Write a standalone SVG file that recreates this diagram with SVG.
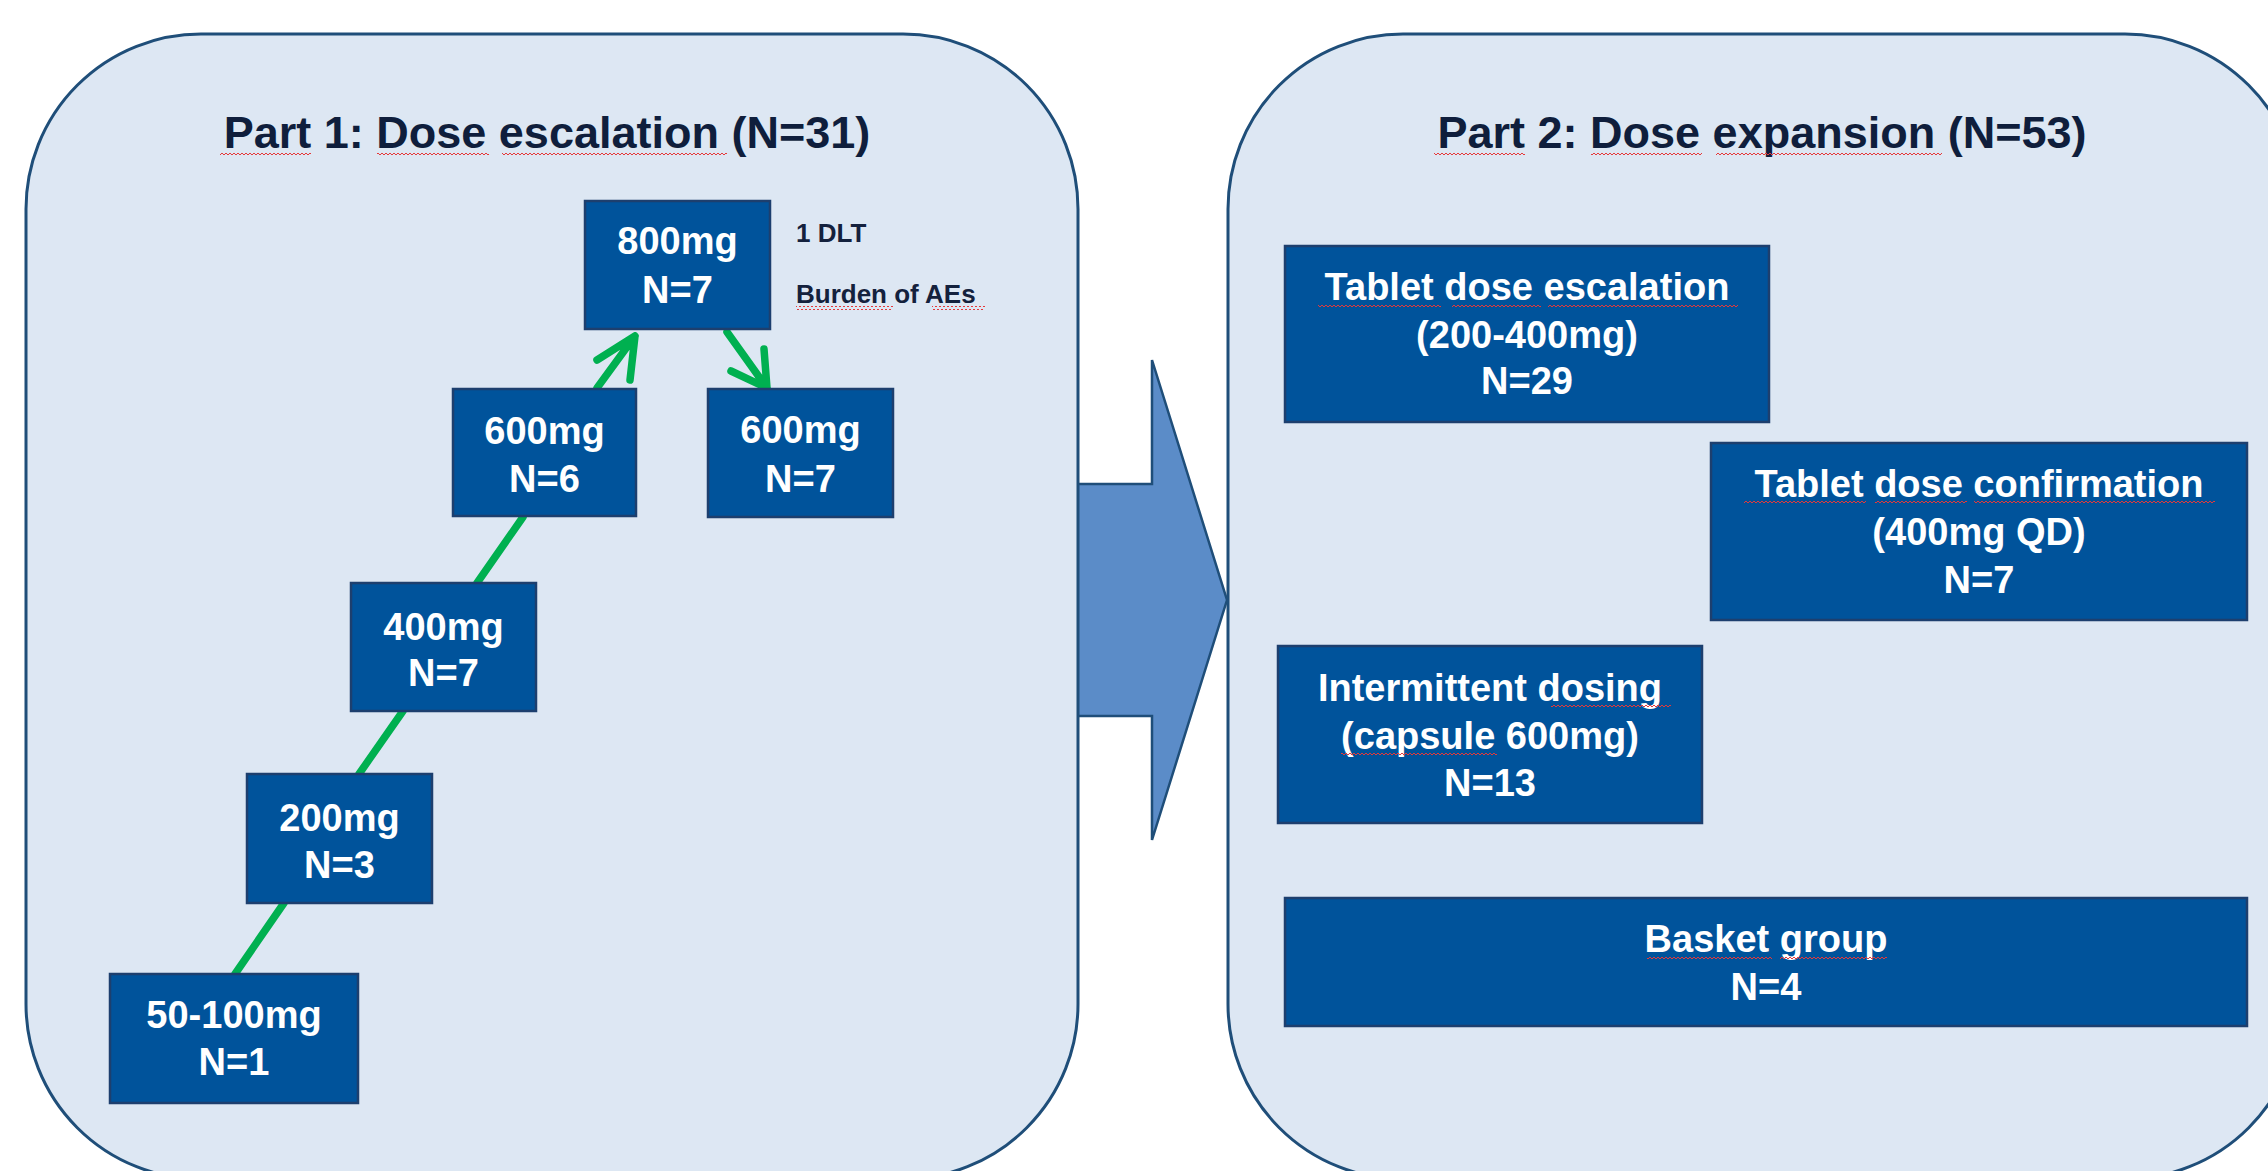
<svg xmlns="http://www.w3.org/2000/svg" width="2268" height="1171" viewBox="0 0 2268 1171">
<defs>
<style>
.panel{fill:#dde7f3;stroke:#1f4e79;stroke-width:3}
.box{fill:#00539b;stroke:#1d3f6e;stroke-width:2.5}
.bl{font-family:"Liberation Sans",Arial,sans-serif;font-weight:bold;font-size:38px;fill:#ffffff;text-anchor:middle}
.title{font-family:"Liberation Sans",Arial,sans-serif;font-weight:bold;font-size:45px;fill:#0f1e3c;text-anchor:middle}
.note{font-family:"Liberation Sans",Arial,sans-serif;font-weight:bold;font-size:26px;fill:#14213d}
.green{fill:none;stroke:#00b050;stroke-width:7.5;stroke-linecap:round;stroke-linejoin:round}
.sq{fill:url(#squig)}
</style>
<pattern id="squig" width="4" height="4" patternUnits="userSpaceOnUse">
<path d="M0 3 L2 1 L4 3" fill="none" stroke="#e5393a" stroke-width="1"/>
</pattern>
</defs>
<rect width="2268" height="1171" fill="#ffffff"/>
<g id="big-arrow">
<polygon points="1060,484 1152,484 1152,360 1227,600 1152,840 1152,716 1060,716" fill="#5b8cc8" stroke="#1f4e79" stroke-width="2.5" stroke-linejoin="miter"/>
</g>
<g id="part1">
<rect class="panel" x="26" y="34" width="1052" height="1145" rx="175" ry="175"/>
<text class="title" x="547" y="148">Part 1: Dose escalation (N=31)</text>
<rect class="sq" x="220" y="152" width="91" height="4"/>
<rect class="sq" x="377" y="152" width="112" height="4"/>
<rect class="sq" x="502" y="152" width="225" height="4"/>
</g>
<g id="part2">
<rect class="panel" x="1228" y="34" width="1072" height="1145" rx="175" ry="175"/>
<text class="title" x="1762" y="148">Part 2: Dose expansion (N=53)</text>
<rect class="sq" x="1434" y="151" width="91" height="4"/>
<rect class="sq" x="1591" y="151" width="111" height="4"/>
<rect class="sq" x="1716" y="151" width="226" height="4"/>
</g>
<g id="connectors">
<line class="green" x1="235" y1="974" x2="284" y2="903"/>
<line class="green" x1="359" y1="774" x2="403" y2="711"/>
<line class="green" x1="477" y1="583" x2="523" y2="517"/>
<path class="green" d="M597 388 L635 336 M597 360 L635 336 L630 380"/>
<path class="green" d="M727 332 L767 388 M731 371 L767 388 L764 349"/>
</g>
<g id="n800">
<rect class="box" x="585" y="201" width="185" height="128"/>
<text class="bl" x="677.5" y="254">800mg</text>
<text class="bl" x="677.5" y="303">N=7</text>
</g>
<g id="note800">
<text class="note" x="796" y="242">1 DLT</text>
<text class="note" x="796" y="303">Burden of AEs</text>
<rect class="sq" x="796" y="306" width="97" height="4"/>
<rect class="sq" x="932" y="306" width="53" height="4"/>
</g>
<g id="n600a">
<rect class="box" x="453" y="389" width="183" height="127"/>
<text class="bl" x="544.5" y="444">600mg</text>
<text class="bl" x="544.5" y="492">N=6</text>
</g>
<g id="n600b">
<rect class="box" x="708" y="389" width="185" height="128"/>
<text class="bl" x="800.5" y="443">600mg</text>
<text class="bl" x="800.5" y="492">N=7</text>
</g>
<g id="n400">
<rect class="box" x="351" y="583" width="185" height="128"/>
<text class="bl" x="443.5" y="640">400mg</text>
<text class="bl" x="443.5" y="686">N=7</text>
</g>
<g id="n200">
<rect class="box" x="247" y="774" width="185" height="129"/>
<text class="bl" x="339.5" y="831">200mg</text>
<text class="bl" x="339.5" y="878">N=3</text>
</g>
<g id="n50">
<rect class="box" x="110" y="974" width="248" height="129"/>
<text class="bl" x="234" y="1028">50-100mg</text>
<text class="bl" x="234" y="1075">N=1</text>
</g>
<g id="tablet-esc">
<rect class="box" x="1285" y="246" width="484" height="176"/>
<text class="bl" x="1527" y="300">Tablet dose escalation</text>
<text class="bl" x="1527" y="348">(200-400mg)</text>
<text class="bl" x="1527" y="394">N=29</text>
<rect class="sq" x="1318" y="304" width="123" height="4"/>
<rect class="sq" x="1452" y="304" width="89" height="4"/>
<rect class="sq" x="1548" y="304" width="190" height="4"/>
</g>
<g id="tablet-conf">
<rect class="box" x="1711" y="443" width="536" height="177"/>
<text class="bl" x="1979" y="497">Tablet dose confirmation</text>
<text class="bl" x="1979" y="545">(400mg QD)</text>
<text class="bl" x="1979" y="593">N=7</text>
<rect class="sq" x="1744" y="500" width="122" height="4"/>
<rect class="sq" x="1875" y="500" width="92" height="4"/>
<rect class="sq" x="1974" y="500" width="241" height="4"/>
</g>
<g id="intermittent">
<rect class="box" x="1278" y="646" width="424" height="177"/>
<text class="bl" x="1490" y="701">Intermittent dosing</text>
<text class="bl" x="1490" y="749">(capsule 600mg)</text>
<text class="bl" x="1490" y="796">N=13</text>
<rect class="sq" x="1551" y="704" width="120" height="4"/>
<rect class="sq" x="1341" y="752" width="156" height="4"/>
</g>
<g id="basket">
<rect class="box" x="1285" y="898" width="962" height="128"/>
<text class="bl" x="1766" y="952">Basket group</text>
<text class="bl" x="1766" y="1000">N=4</text>
<rect class="sq" x="1647" y="955" width="125" height="4"/>
<rect class="sq" x="1780" y="955" width="107" height="4"/>
</g>
</svg>
